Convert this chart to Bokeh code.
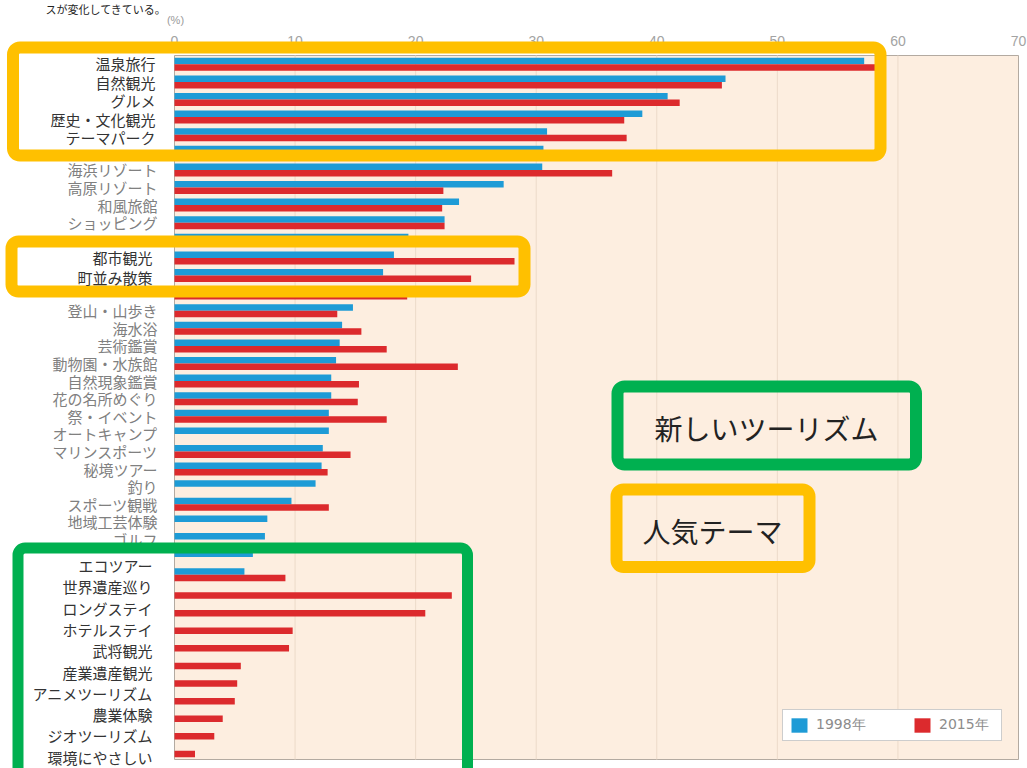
from bokeh.plotting import figure
from bokeh.models import (ColumnDataSource, BoxAnnotation, Label, Range1d,
                          Legend, LegendItem, FixedTicker)
from bokeh.transform import dodge
from bokeh.embed import file_html
from bokeh.resources import INLINE

NaN = float("nan")

# ---------------- data (rows top -> bottom as drawn in the chart) ----------------
categories = [
    "温泉旅行", "自然観光", "グルメ", "歴史・文化観光", "テーマパーク", "（隠れ項目1）",
    "海浜リゾート", "高原リゾート", "和風旅館", "ショッピング", "（隠れ項目2）",
    "都市観光", "町並み散策", "（隠れ項目3）",
    "登山・山歩き", "海水浴", "芸術鑑賞", "動物園・水族館", "自然現象鑑賞",
    "花の名所めぐり", "祭・イベント", "オートキャンプ", "マリンスポーツ", "秘境ツアー",
    "釣り", "スポーツ観戦", "地域工芸体験", "ゴルフ", "（隠れ項目4）",
    "エコツアー", "世界遺産巡り", "ロングステイ", "ホテルステイ", "武将観光",
    "産業遺産観光", "アニメツーリズム", "農業体験", "ジオツーリズム", "環境にやさしい",
    "（隠れ項目5）",
]
v1998 = [57.2, 45.7, 40.9, 38.8, 30.9, 30.6,
         30.5, 27.3, 23.6, 22.4, 19.4,
         18.2, 17.3, NaN,
         14.8, 13.9, 13.7, 13.4, 13.0,
         13.0, 12.8, 12.8, 12.3, 12.2,
         11.7, 9.7, 7.7, 7.5, 6.5,
         5.8, NaN, NaN, NaN, NaN,
         NaN, NaN, NaN, NaN, NaN,
         NaN]
v2015 = [58.2, 45.4, 41.9, 37.3, 37.5, NaN,
         36.3, 22.3, 22.2, 22.4, NaN,
         28.2, 24.6, 19.3,
         13.5, 15.5, 17.6, 23.5, 15.3,
         15.2, 17.6, NaN, 14.6, 12.7,
         NaN, 12.8, NaN, NaN, NaN,
         9.2, 23.0, 20.8, 9.8, 9.5,
         5.5, 5.2, 5.0, 4.0, 3.3,
         1.7]
years = ["1998年", "2015年"]
x_ticks = [0, 10, 20, 30, 40, 50, 60, 70]
unit_label = "(%)"

# labels pasted over the chart in highlight boxes
top_box_labels = ["温泉旅行", "自然観光", "グルメ", "歴史・文化観光", "テーマパーク"]
mid_box_labels = ["都市観光", "町並み散策"]
new_box_labels = ["エコツアー", "世界遺産巡り", "ロングステイ", "ホテルステイ", "武将観光",
                  "産業遺産観光", "アニメツーリズム", "農業体験", "ジオツーリズム", "環境にやさしい"]
note_new = "新しいツーリズム"
note_popular = "人気テーマ"
slide_text = "スが変化してきている。"

# rows whose original axis label is covered by the pasted boxes
covered_rows = set(range(0, 6)) | set(range(10, 14)) | set(range(28, 40))

# ---------------- layout (page pixels) ----------------
W, H = 1027, 768
FL, FR, FT, FB = 174, 1018, 55, 759      # chart area
XMAX = 70
NROWS = len(categories)

BLUE = "#1e9bd6"
RED = "#dc2a2d"
ORANGE = "#FFC000"
GREEN = "#00B050"
JP = "Noto Sans CJK JP"


def xd(px):
    return (px - FL) / (FR - FL) * XMAX


def yd(py):
    return (FB - py) / (FB - FT) * NROWS + 0.5


p = figure(width=W, height=H,
           x_range=Range1d(xd(0), xd(W)),
           y_range=Range1d(yd(H), yd(0)),
           x_axis_location="above", y_axis_location="left",
           output_backend="svg", toolbar_location=None,
           min_border=0, min_border_left=0, min_border_right=0,
           min_border_top=0, min_border_bottom=0)
p.background_fill_color = "white"
p.border_fill_color = "white"
p.outline_line_color = None
p.grid.visible = False

# chart area
p.add_layout(BoxAnnotation(left=0, right=XMAX, bottom=0.5, top=NROWS + 0.5,
                           fill_color="#fdeee0", fill_alpha=1,
                           line_color="#b3aaa1", line_alpha=1, line_width=1,
                           line_dash="solid", level="underlay"))

# vertical grid lines
grid_x = x_ticks[1:-1]
p.segment(x0=grid_x, x1=grid_x, y0=[0.5] * len(grid_x), y1=[NROWS + 0.5] * len(grid_x),
          line_color="#ecdac9", line_width=1)

ypos = [NROWS - i for i in range(NROWS)]
src = ColumnDataSource(dict(cat=categories, y=ypos, v1998=v1998, v2015=v2015))
r1 = p.hbar(y=dodge("y", 0.185), left=0, right="v1998",
            height=0.37, source=src, fill_color=BLUE, line_color=None)
r2 = p.hbar(y=dodge("y", -0.185), left=0, right="v2015",
            height=0.37, source=src, fill_color=RED, line_color=None)

# axes (drawn at the chart area's edges)
xa = p.xaxis[0]
xa.fixed_location = NROWS + 0.5
xa.ticker = FixedTicker(ticks=x_ticks)
xa.axis_line_color = None
xa.major_tick_line_color = None
xa.minor_tick_line_color = None
xa.major_tick_out = 0
xa.major_tick_in = 0
xa.major_label_standoff = 10
xa.major_label_text_color = "#a3a3a3"
xa.major_label_text_font = "Liberation Sans"
xa.major_label_text_font_size = "14px"

visible_rows = [i for i in range(NROWS) if i not in covered_rows]
ya = p.yaxis[0]
ya.fixed_location = 0
ya.ticker = FixedTicker(ticks=[ypos[i] for i in visible_rows])
ya.major_label_overrides = {ypos[i]: categories[i] for i in visible_rows}
ya.axis_line_color = None
ya.major_tick_line_color = None
ya.minor_tick_line_color = None
ya.major_tick_out = 0
ya.major_tick_in = 0
ya.major_label_standoff = 17
ya.major_label_text_color = "#808080"
ya.major_label_text_font = JP
ya.major_label_text_font_size = "15px"

legend = Legend(items=[LegendItem(label=years[0], renderers=[r1]),
                       LegendItem(label=years[1], renderers=[r2])],
                orientation="horizontal", location=(782, H - 741),
                background_fill_color="white", background_fill_alpha=1,
                border_line_color="#9b9b9b", border_line_width=1,
                label_text_color="#8c8c8c", label_text_font_size="14px",
                label_text_font="DejaVu Sans",
                glyph_width=20, glyph_height=18, label_standoff=7,
                spacing=40, padding=6, margin=0, label_width=56)
p.add_layout(legend)


def frame_box(l, t, r, b, color, lw=12):
    p.add_layout(BoxAnnotation(left=xd(l), right=xd(r), top=yd(t), bottom=yd(b),
                               fill_color=None, fill_alpha=0, line_color=color,
                               line_alpha=1, line_width=lw, line_dash="solid",
                               border_radius=7, level="annotation"))


def text(x, y, s, size, align="right", color="#333333", baseline="middle", font=JP):
    p.add_layout(Label(x=xd(x), y=yd(y), text=s, text_align=align,
                       text_baseline=baseline, text_font=font,
                       text_font_size=size, text_color=color))


# highlight frames
frame_box(12.5, 47, 880, 155, ORANGE)
frame_box(11, 241, 524, 291, ORANGE)
frame_box(17.5, 547.5, 467, 800, GREEN, 11)
frame_box(617, 386, 915.5, 464, GREEN)
frame_box(616, 489, 809, 566.5, ORANGE)

# pasted labels
for i, s in enumerate(top_box_labels):
    text(155, 63 + 18.6 * i, s, "15px")
for i, s in enumerate(mid_box_labels):
    text(152, 257 + 19.5 * i, s, "15px")
for i, s in enumerate(new_box_labels):
    text(152, 565 + 21.3 * i, s, "15px")

text(766, 427, note_new, "28px", align="center", color="#222222")
text(712, 530, note_popular, "28px", align="center", color="#222222")

# unit and slide text
text(175, 19, unit_label, "11px", align="center", color="#9a9a9a", font="Liberation Sans")
text(45, 8, slide_text, "11px", align="left", color="#222222")

open("out.html", "w").write(file_html(p, INLINE))
